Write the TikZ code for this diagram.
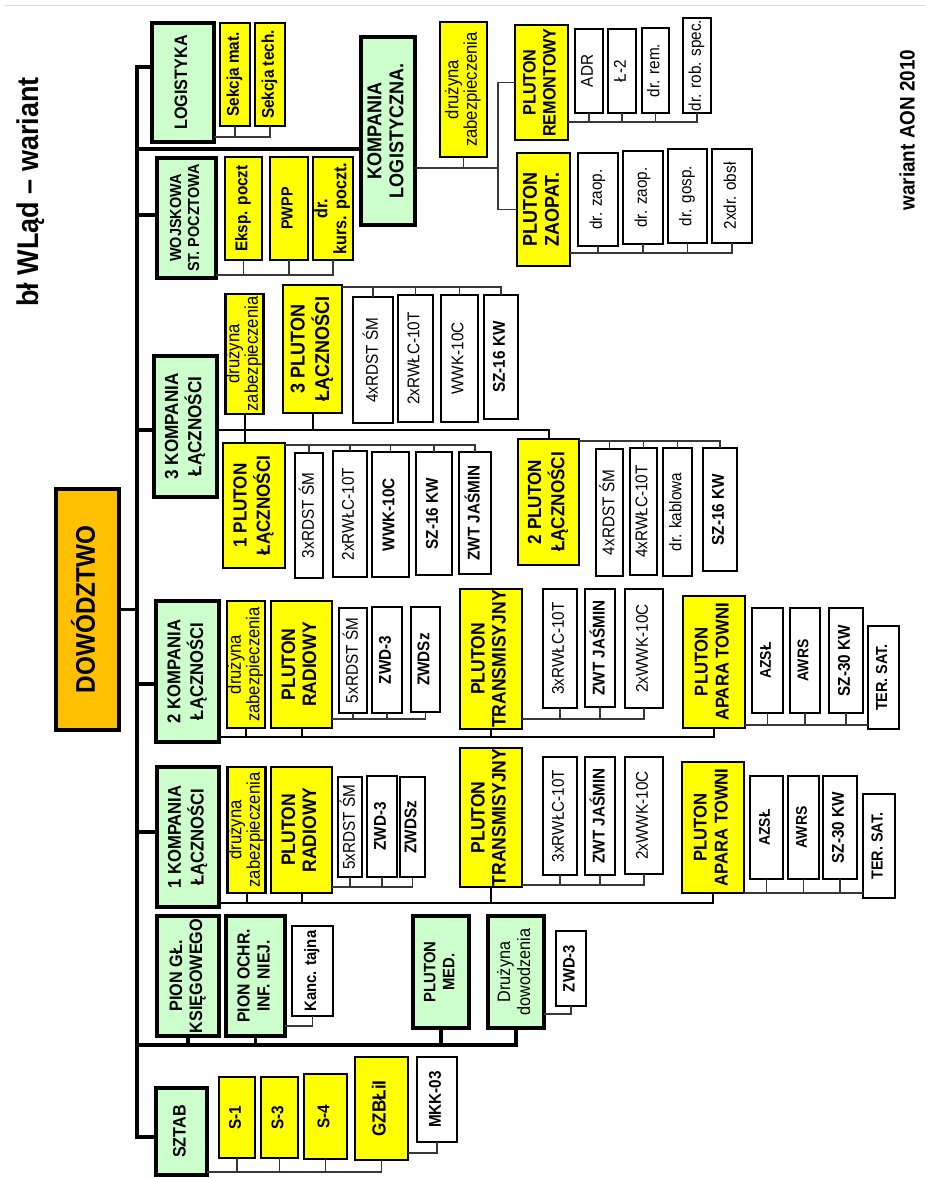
\documentclass[tikz,border=0pt]{standalone}
\usepackage{fontspec}
\setmainfont{Liberation Sans}[FakeStretch=0.9]
\usetikzlibrary{calc}
\definecolor{boxgreen}{HTML}{CCFFCC}
\definecolor{boxyellow}{HTML}{FFFF00}
\definecolor{boxorange}{HTML}{FFC000}
\definecolor{wirecol}{HTML}{383838}
\newcommand\fsz[2]{\fontsize{#1}{#2}\selectfont}
% box given by its corners (x1,y1)-(x2,y2), text set bottom-to-top
\newcommand\bx[7]{%
  \node[#1, minimum width={(#5-#3)*1pt}, minimum height={(#6-#4)*1pt}]
    (#2) at ({(#3+#5)/2},{(#4+#6)/2})
    {\rotatebox{90}{\begin{tabular}{@{}c@{}}#7\end{tabular}}};}
\tikzset{
  box/.style={draw=black, inner sep=0pt, outer sep=0pt},
  unitg/.style={box, fill=boxgreen, line width=3.4pt, font=\bfseries\fsz{18}{20}},
  unity/.style={box, fill=boxyellow, line width=2.8pt, font=\bfseries\fsz{19}{21}},
  unitz/.style={unity, font=\fsz{18.5}{17.5}},
  unitw/.style={box, fill=white, line width=2.6pt, font=\fsz{17}{19}},
  unitwb/.style={unitw, font=\bfseries\fsz{17}{19}},
  cmdbox/.style={box, fill=boxorange, line width=3.4pt, font=\bfseries\fsz{27}{30}},
  trunk/.style={line width=3.6pt, line cap=rect},
  branch/.style={line width=3.2pt},
  mid/.style={line width=2pt},
  wire/.style={line width=1.4pt, draw=wirecol},
}
\begin{document}
\begin{tikzpicture}[x=1pt,y=-1pt]
\useasboundingbox (0,0) rectangle (925,1178);
\fill[white] (0,0) rectangle (925,1178);
\coordinate (edgeL) at (5,5);
\coordinate (edgeR) at (925,5);
\draw[black!15, line width=1pt] (edgeL) -- (edgeR);

% headings
\node[rotate=90, font=\bfseries\fsz{30}{32}] (title) at (31,192) {bł WLąd – wariant};
\node[rotate=90, font=\bfseries\fsz{21}{23}] (ver) at (907,130) {wariant AON 2010};

% command
\bx{cmdbox}{dow}{56}{489}{119}{730}{DOWÓDZTWO}

% first-level units
\bx{unitg}{log}{152}{23}{214}{142}{LOGISTYKA}
\bx{unitg,font=\bfseries\fsz{16}{18}}{woj}{157}{158}{216}{278}{WOJSKOWA\\ST. POCZTOWA}
\bx{unitg,font=\bfseries\fsz{20}{22}}{klog}{361}{37}{415}{225}{KOMPANIA\\LOGISTYCZNA.}
\bx{unitg,font=\bfseries\fsz{19}{21}}{k3}{154}{356}{217}{497}{3 KOMPANIA\\ŁĄCZNOŚCI}
\bx{unitg,font=\bfseries\fsz{18.5}{21}}{k2}{156}{601}{219}{742}{2 KOMPANIA\\ŁĄCZNOŚCI}
\bx{unitg,font=\bfseries\fsz{18.5}{21}}{k1}{157}{767}{219}{907}{1 KOMPANIA\\ŁĄCZNOŚCI}
\bx{unitg}{pgk}{157}{916}{219}{1036}{PION GŁ.\\KSIĘGOWEGO}
\bx{unitg,font=\bfseries\fsz{17.5}{20}}{poi}{226}{916}{285}{1036}{PION OCHR.\\INF. NIEJ.}
\bx{unitg,font=\bfseries\fsz{16.5}{19}}{pmed}{413}{916}{469}{1028}{PLUTON\\MED.}
\bx{unitg,font=\fsz{18}{20}}{ddow}{488}{916}{544}{1028}{Drużyna\\dowodzenia}
\bx{unitg}{sztab}{156}{1088}{207}{1175}{SZTAB}

% logistics
\bx{unity,font=\bfseries\fsz{17}{19}}{sm}{220}{23}{250}{126}{Sekcja mat.}
\bx{unity,font=\bfseries\fsz{17}{19}}{st}{255}{23}{285}{126}{Sekcja tech.}
\bx{unity,font=\bfseries\fsz{17}{19}}{eksp}{225}{157}{262}{260}{Eksp. poczt}
\bx{unity,font=\bfseries\fsz{16}{18}}{pwpp}{270}{157}{308}{260}{PWPP}
\bx{unity,font=\bfseries\fsz{18}{19}}{dkp}{313}{157}{353}{260}{dr.\\kurs. poczt.}
\bx{unitz}{dzl}{440}{22}{487}{157}{drużyna\\zabezpieczenia}
\bx{unity,font=\bfseries\fsz{18}{20}}{prem}{515}{25}{568}{140}{PLUTON\\REMONTOWY}
\bx{unity,font=\bfseries\fsz{20}{22}}{pzao}{517}{153}{570}{266}{PLUTON\\ZAOPAT.}
\bx{unitw}{adr}{575}{29}{603}{113}{ADR}
\bx{unitw}{ltwo}{608}{29}{636}{113}{Ł-2}
\bx{unitw}{drem}{642}{28}{669}{113}{dr. rem.}
\bx{unitw}{drs}{683}{18}{711}{113}{dr. rob. spec.}
\bx{unitw}{dzaa}{578}{153}{618}{246}{dr. zaop.}
\bx{unitw}{dzab}{623}{151}{663}{244}{dr. zaop.}
\bx{unitw}{dgo}{668}{149}{707}{243}{dr. gosp.}
\bx{unitw}{dob}{712}{149}{752}{243}{2xdr. obsł}

% 3rd signal company
\bx{unitz}{dzc}{226}{294}{263}{414}{drużyna\\zabezpieczenia}
\bx{unity,font=\bfseries\fsz{20}{22}}{pc}{283}{285}{342}{413}{3 PLUTON\\ŁĄCZNOŚCI}
\bx{unity}{pa}{223}{443}{285}{568}{1 PLUTON\\ŁĄCZNOŚCI}
\bx{unity}{pb}{518}{439}{579}{565}{2 PLUTON\\ŁĄCZNOŚCI}
\bx{unitw}{rca}{353}{297}{393}{423}{4xRDST ŚM}
\bx{unitw}{rcb}{398}{295}{433}{422}{2xRWŁC-10T}
\bx{unitw}{rcc}{441}{295}{478}{422}{WWK-10C}
\bx{unitwb}{rcd}{484}{295}{518}{419}{SZ-16 KW}
\bx{unitw}{raa}{295}{453}{323}{578}{3xRDST ŚM}
\bx{unitw}{rab}{333}{451}{367}{577}{2xRWŁC-10T}
\bx{unitwb}{rac}{372}{452}{409}{577}{WWK-10C}
\bx{unitwb}{rad}{416}{452}{452}{575}{SZ-16 KW}
\bx{unitwb}{rae}{459}{452}{491}{574}{ZWT JAŚMIN}
\bx{unitw}{rba}{596}{449}{623}{576}{4xRDST ŚM}
\bx{unitw}{rbb}{630}{448}{657}{575}{4xRWŁC-10T}
\bx{unitw}{rbc}{663}{448}{692}{576}{dr. kablowa}
\bx{unitwb}{rbd}{703}{448}{737}{571}{SZ-16 KW}

% 2nd signal company
\bx{unitz}{dzb}{227}{601}{265}{728}{drużyna\\zabezpieczenia}
\bx{unity,font=\bfseries\fsz{19.5}{21}}{prb}{271}{601}{332}{728}{PLUTON\\RADIOWY}
\bx{unity,font=\bfseries\fsz{19.5}{21}}{ptb}{460}{589}{522}{729}{PLUTON\\TRANSMISYJNY}
\bx{unity,font=\bfseries\fsz{18.5}{21}}{pab}{683}{596}{745}{728}{PLUTON\\APARA TOWNI}
\bx{unitw}{xba}{339}{608}{367}{713}{5xRDST ŚM}
\bx{unitwb}{xbb}{372}{607}{402}{713}{ZWD-3}
\bx{unitwb}{xbc}{411}{607}{440}{712}{ZWDSz}
\bx{unitw}{tba}{543}{589}{577}{708}{3xRWŁC-10T}
\bx{unitwb}{tbb}{585}{589}{615}{707}{ZWT JAŚMIN}
\bx{unitw}{tbc}{625}{589}{663}{708}{2xWWK-10C}
\bx{unitwb,font=\bfseries\fsz{15.5}{17}}{aba}{752}{608}{783}{713}{AZSŁ}
\bx{unitwb,font=\bfseries\fsz{15.5}{17}}{abb}{790}{608}{820}{713}{AWRS}
\bx{unitwb}{abc}{829}{608}{863}{713}{SZ-30 KW}
\bx{unitwb,font=\bfseries\fsz{16}{18}}{abd}{868}{626}{899}{729}{TER. SAT.}

% 1st signal company
\bx{unitz}{dza}{228}{767}{265}{893}{drużyna\\zabezpieczenia}
\bx{unity,font=\bfseries\fsz{19.5}{21}}{pra}{271}{767}{332}{893}{PLUTON\\RADIOWY}
\bx{unity,font=\bfseries\fsz{19.5}{21}}{pta}{460}{748}{522}{887}{PLUTON\\TRANSMISYJNY}
\bx{unity,font=\bfseries\fsz{18.5}{21}}{paa}{682}{762}{744}{893}{PLUTON\\APARA TOWNI}
\bx{unitw}{xaa}{338}{777}{362}{877}{5xRDST ŚM}
\bx{unitwb}{xab}{367}{776}{397}{877}{ZWD-3}
\bx{unitwb}{xac}{400}{777}{425}{877}{ZWDSz}
\bx{unitw}{taa}{543}{757}{577}{875}{3xRWŁC-10T}
\bx{unitwb}{tab}{585}{757}{615}{875}{ZWT JAŚMIN}
\bx{unitw}{tac}{625}{757}{663}{874}{2xWWK-10C}
\bx{unitwb,font=\bfseries\fsz{15.5}{17}}{aaa}{750}{776}{783}{879}{AZSŁ}
\bx{unitwb,font=\bfseries\fsz{15.5}{17}}{aab}{788}{776}{819}{879}{AWRS}
\bx{unitwb}{aac}{823}{776}{857}{879}{SZ-30 KW}
\bx{unitwb,font=\bfseries\fsz{16}{18}}{aad}{863}{794}{895}{898}{TER. SAT.}

% lower units
\bx{unitwb,font=\bfseries\fsz{16.5}{18}}{kanc}{292}{926}{333}{1016}{Kanc. tajna}
\bx{unitwb,font=\bfseries\fsz{16.5}{18}}{zwdd}{556}{931}{586}{1006}{ZWD-3}
\bx{unity,font=\bfseries\fsz{17}{19}}{sone}{219}{1077}{255}{1158}{S-1}
\bx{unity,font=\bfseries\fsz{17}{19}}{sthree}{261}{1077}{298}{1158}{S-3}
\bx{unity,font=\bfseries\fsz{17}{19}}{sfour}{304}{1074}{347}{1159}{S-4}
\bx{unity}{gzb}{355}{1057}{408}{1160}{GZBŁiI}
\bx{unitwb}{mkk}{417}{1057}{457}{1142}{MKK-03}

% ---- trunk and first-level branches
\coordinate (ttop) at (137,67);
\coordinate (tbot) at (137,1137);
\draw[trunk] (log.west|-ttop) -- (ttop) -- (tbot) -- (sztab.west|-tbot);
\coordinate (yklog) at (137,149);
\coordinate (ywoj) at (137,215);
\coordinate (yk3) at (137,430);
\coordinate (yk2) at (137,684);
\coordinate (yk1) at (137,832);
\coordinate (ylow) at (137,1045);
\draw[branch] (yklog) -- (klog.west|-yklog);
\draw[branch] (ywoj) -- (woj.west|-ywoj);
\draw[branch] (yk3) -- (k3.west|-yk3);
\draw[branch] (yk2) -- (k2.west|-yk2);
\draw[branch] (yk1) -- (k1.west|-yk1);
\draw[branch] (dow.east) -- (dow.east-|ttop);
\draw[branch] (ylow) -| (ddow.south);
\draw[branch] (pgk.south) -- (pgk.south|-ylow);
\draw[branch] (poi.south) -- (poi.south|-ylow);
\draw[branch] (pmed.south) -- (pmed.south|-ylow);

% ---- logistics links
\coordinate (blog) at (0,137);
\draw[wire] (log.east|-blog) -| (sm.south);
\draw[wire] (log.east|-blog) -| (st.south);
\coordinate (bwoj) at (0,275);
\draw[wire] (woj.east|-bwoj) -| (eksp.south);
\draw[wire] (woj.east|-bwoj) -| (pwpp.south);
\draw[wire] (woj.east|-bwoj) -| (dkp.south);
\coordinate (kj) at (498,168);
\draw[wire] (klog.east|-kj) -- (kj);
\draw[wire] (dzl.south) -- (dzl.south|-kj);
\draw[wire] (prem.west) -| (kj) |- (pzao.west);
\coordinate (brem) at (0,122);
\draw[wire] (prem.east|-brem) -| (drs.south);
\foreach \n in {adr,ltwo,drem} \draw[wire] (\n.south) -- (\n.south|-brem);
\coordinate (bzao) at (0,253);
\draw[wire] (pzao.east|-bzao) -| (dob.south);
\foreach \n in {dzaa,dzab,dgo} \draw[wire] (\n.south) -- (\n.south|-bzao);

% ---- 3rd signal company links
\draw[mid] (k3.east|-yk3) -| (pb.north);
\draw[mid] (dzc.south) -- (dzc.south|-pa.north);
\draw[mid] (pc.south) -- (pc.south|-yk3);
\coordinate (bpc) at (0,287);
\draw[wire] (pc.east|-bpc) -| (rcd.north);
\foreach \n in {rca,rcb,rcc} \draw[wire] (\n.north) -- (\n.north|-bpc);
\coordinate (bpa) at (0,445);
\draw[wire] (pa.east|-bpa) -| (rae.north);
\foreach \n in {raa,rab,rac,rad} \draw[wire] (\n.north) -- (\n.north|-bpa);
\coordinate (bpb) at (0,441);
\draw[wire] (pb.east|-bpb) -| (rbd.north);
\foreach \n in {rba,rbb,rbc} \draw[wire] (\n.north) -- (\n.north|-bpb);

% ---- 2nd signal company links
\coordinate (bk2) at (0,737);
\draw[mid] (k2.east|-bk2) -| (pab.south);
\foreach \n in {dzb,prb,ptb} \draw[mid] (\n.south) -- (\n.south|-bk2);
\coordinate (brb) at (0,719);
\draw[wire] (prb.east|-brb) -| (xbc.south);
\foreach \n in {xba,xbb} \draw[wire] (\n.south) -- (\n.south|-brb);
\draw[wire] (ptb.east|-brb) -| (tbc.south);
\foreach \n in {tba,tbb} \draw[wire] (\n.south) -- (\n.south|-brb);
\coordinate (bab) at (0,725);
\draw[wire] (pab.east|-bab) -- (abd.west|-bab);
\foreach \n in {aba,abb,abc} \draw[wire] (\n.south) -- (\n.south|-bab);

% ---- 1st signal company links
\coordinate (bk1) at (0,903);
\draw[mid] (k1.east|-bk1) -| (paa.south);
\foreach \n in {dza,pra,pta} \draw[mid] (\n.south) -- (\n.south|-bk1);
\coordinate (bra) at (0,887);
\draw[wire] (pra.east|-bra) -| (xac.south);
\foreach \n in {xaa,xab} \draw[wire] (\n.south) -- (\n.south|-bra);
\coordinate (bta) at (0,885);
\draw[wire] (pta.east|-bta) -| (tac.south);
\foreach \n in {taa,tab} \draw[wire] (\n.south) -- (\n.south|-bta);
\coordinate (baa) at (0,893);
\draw[wire] (paa.east|-baa) -- (aad.west|-baa);
\foreach \n in {aaa,aab,aac} \draw[wire] (\n.south) -- (\n.south|-baa);

% ---- lower links
\coordinate (bpoi) at (0,1026);
\draw[wire] (poi.east|-bpoi) -| (kanc.south);
\coordinate (bdd) at (0,1014);
\draw[wire] (ddow.east|-bdd) -| (zwdd.south);
\coordinate (bsz) at (0,1172);
\draw[wire] (sztab.east|-bsz) -| (gzb.south);
\foreach \n in {sone,sthree,sfour} \draw[wire] (\n.south) -- (\n.south|-bsz);
\coordinate (bgz) at (0,1153);
\draw[wire] (gzb.east|-bgz) -| (mkk.south);
\end{tikzpicture}
\end{document}
